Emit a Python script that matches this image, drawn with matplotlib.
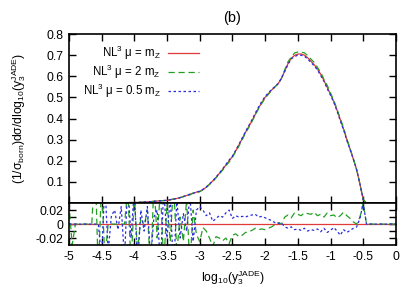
import numpy as np
import matplotlib
matplotlib.use("Agg")
import matplotlib.pyplot as plt

plt.rcParams['font.family'] = ['Liberation Sans', 'DejaVu Sans']
plt.rcParams['mathtext.fontset'] = 'custom'
plt.rcParams['mathtext.rm'] = 'Liberation Sans'
plt.rcParams['mathtext.it'] = 'Liberation Sans:italic'
plt.rcParams['font.size'] = 8.7

# bin centres in log10(y3)
x = np.round(np.arange(-5.0, 0.001, 0.05), 2)

# central scale distribution
central = [0.0, 0.0, 0.0, 0.0, 0.0, 0.0, 0.0001, 0.0001, 0.0002, 0.0003,
           0.0005, 0.0006, 0.0008, 0.001, 0.0013, 0.0016, 0.002, 0.0023, 0.0026, 0.0028,
           0.003, 0.0036, 0.0042, 0.005, 0.006, 0.0072, 0.0085, 0.0098, 0.011, 0.0122,
           0.013, 0.016, 0.019, 0.022, 0.026, 0.031, 0.036, 0.041, 0.047, 0.052,
           0.055, 0.064, 0.075, 0.09, 0.105, 0.122, 0.14, 0.16, 0.18, 0.2,
           0.22, 0.247, 0.275, 0.305, 0.335, 0.362, 0.39, 0.42, 0.45, 0.476,
           0.5, 0.518, 0.535, 0.55, 0.565, 0.59, 0.625, 0.66, 0.685, 0.699,
           0.705, 0.706, 0.7, 0.688, 0.672, 0.655, 0.635, 0.61, 0.58, 0.548,
           0.515, 0.48, 0.44, 0.395, 0.35, 0.3, 0.255, 0.208, 0.158, 0.09,
           0.016, 0.0, 0.0, 0.0, 0.0, 0.0, 0.0, 0.0, 0.0, 0.0, 0.0]

# relative deviation of mu = 2 mZ and mu = 0.5 mZ from mu = mZ
ratio_2mz = [0.03, -0.03, 0.0, 0.0, 0.0, 0.0, 0.0, 0.0, 0.09, -0.07,
             0.06, -0.05, 0.0, 0.0, 0.0, 0.0, 0.0, 0.0, 0.05, -0.06,
             0.04, -0.04, 0.01, -0.003, 0.02, -0.07, 0.06, -0.02, 0.05, -0.06,
             0.03, -0.025, 0.06, -0.04, 0.01, -0.025, 0.035, -0.06, 0.02, -0.015,
             -0.025, -0.005, -0.01, -0.02, -0.032, -0.018, -0.02, -0.024, -0.02, -0.028,
             -0.016, -0.014, -0.018, -0.016, -0.012, -0.011, -0.009, -0.006, -0.008, -0.007,
             -0.008, -0.006, -0.004, -0.001, 0.002, 0.0, 0.01, 0.013, 0.009, 0.016,
             0.014, 0.012, 0.016, 0.015, 0.014, 0.017, 0.012, 0.014, 0.01, 0.016,
             0.012, 0.013, 0.009, 0.012, 0.017, 0.012, 0.008, 0.003, 0.0, 0.01,
             0.03, 0.0, 0.0, 0.0, 0.0, 0.0, 0.0, 0.0, 0.0, 0.0, 0.0]
ratio_halfmz = [0.0, 0.0, 0.0, 0.0, 0.0, 0.0, 0.0, 0.0, 0.0, 0.0,
                -0.05, 0.06, -0.04, 0.012, 0.02, -0.008, 0.025, -0.05, 0.06, -0.02,
                0.05, -0.06, 0.02, -0.01, 0.025, -0.05, 0.01, 0.02, -0.06, 0.05,
                -0.02, 0.04, -0.07, 0.035, -0.02, 0.015, -0.01, 0.04, -0.025, 0.02,
                0.025, 0.02, 0.012, 0.016, 0.004, 0.008, 0.012, 0.01, 0.016, 0.02,
                0.008, 0.012, 0.01, 0.011, 0.01, 0.012, 0.013, 0.014, 0.01, 0.011,
                0.009, 0.007, 0.005, 0.002, 0.001, 0.002, -0.004, -0.006, -0.004, -0.008,
                -0.007, -0.009, -0.006, -0.01, -0.008, -0.009, -0.007, -0.011, -0.006, -0.012,
                -0.009, -0.005, -0.01, -0.016, -0.008, -0.012, -0.009, -0.006, -0.004, 0.008,
                0.03, 0.0, 0.0, 0.0, 0.0, 0.0, 0.0, 0.0, 0.0, 0.0, 0.0]

central = np.array(central)
var_2mz = central * (1 + np.array(ratio_2mz))
var_halfmz = central * (1 + np.array(ratio_halfmz))

labels = [r'NL$^3$ μ = m$_{\mathrm{Z}}$', r'NL$^3$ μ = 2 m$_{\mathrm{Z}}$',
          r'NL$^3$ μ = 0.5 m$_{\mathrm{Z}}$']
colors = ['#e03a3a', '#22a022', '#2a2ae0']
styles = ['-', (0, (5, 3)), (0, (2, 2))]

xticks = np.arange(-5.0, 0.01, 0.5)
xticklabels = ['-5', '-4.5', '-4', '-3.5', '-3', '-2.5', '-2', '-1.5', '-1', '-0.5', '0']

fig = plt.figure(figsize=(4.15, 2.91), dpi=100)
ax = fig.add_axes([0.166, 0.302, 0.788, 0.581])
ax2 = fig.add_axes([0.166, 0.158, 0.788, 0.144])

series = [central, var_2mz, var_halfmz]
for s, lab, c, ls in zip(series, labels, colors, styles):
    ax.plot(x, s, color=c, linestyle=ls, linewidth=0.9, label=lab)

ax2.plot(x, np.zeros_like(x), color=colors[0], linewidth=0.9)
ax2.plot(x, ratio_2mz, color=colors[1], linestyle=styles[1], linewidth=0.9)
ax2.plot(x, ratio_halfmz, color=colors[2], linestyle=styles[2], linewidth=0.9)

ax.set_xlim(-5, 0)
ax.set_ylim(0, 0.8)
ax.set_xticks(xticks)
ax.set_xticklabels([])
ax.set_yticks(np.arange(0, 0.81, 0.1))
ax.set_yticklabels([''] + ['%.1f' % v for v in np.arange(0.1, 0.81, 0.1)])
ax.set_title('(b)', pad=9)
ax.set_ylabel(r'(1/σ$_{\mathrm{born}}$)dσ/dlog$_{10}$(y$_3^{\mathrm{JADE}}$)')
ax.yaxis.set_label_coords(-0.125, 0.5)

ax2.set_xlim(-5, 0)
ax2.set_ylim(-0.03, 0.03)
ax2.set_xticks(xticks)
ax2.set_xticklabels(xticklabels)
ax2.set_yticks([-0.02, -0.01, 0, 0.01, 0.02])
ax2.set_yticklabels(['-0.02', '', '0', '', '0.02'])
ax2.set_xlabel(r'log$_{10}$(y$_3^{\mathrm{JADE}}$)', labelpad=4)

for a in (ax, ax2):
    a.tick_params(direction='in', length=5, width=1.0, top=True, right=True, pad=4)
    for sp in a.spines.values():
        sp.set_linewidth(1.2)

ax.legend(loc='upper left', bbox_to_anchor=(0.025, 0.975), frameon=False,
          markerfirst=False, handlelength=2.7, handletextpad=0.6,
          labelspacing=0.05, borderpad=0, fontsize=8.3)

fig.savefig('out.png', dpi=100)
